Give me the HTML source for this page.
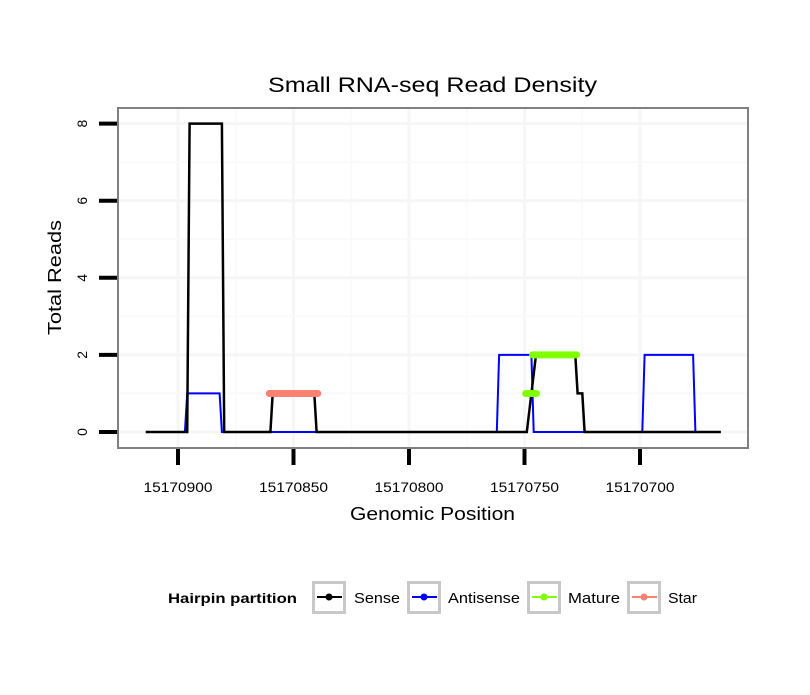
<!DOCTYPE html>
<html><head><meta charset="utf-8"><style>
body{margin:0;background:#fff;}
svg text{font-family:"Liberation Sans",sans-serif;}
</style></head><body>
<svg width="810" height="690" viewBox="0 0 810 690">
<rect width="810" height="690" fill="#fff"/>
<text x="268" y="92" font-size="21" textLength="329" lengthAdjust="spacingAndGlyphs">Small RNA-seq Read Density</text>
<g id="grid"></g>
<g id="marks"></g>
<rect x="118" y="108" width="630" height="340" fill="none" stroke="#808080" stroke-width="2"/>
<g id="axes"></g>
<text x="350" y="520" font-size="18" textLength="165" lengthAdjust="spacingAndGlyphs">Genomic Position</text>
<text transform="translate(61,335) rotate(-90)" font-size="18" textLength="115" lengthAdjust="spacingAndGlyphs">Total Reads</text>
<g>
<text x="168" y="603" font-size="14" font-weight="bold" textLength="129" lengthAdjust="spacingAndGlyphs">Hairpin partition</text>
<g id="legend"></g>
</g>
</svg>
<script>
const xTicks=[15170900,15170850,15170800,15170750,15170700];
const yTicks=[0,2,4,6,8];
const sensePos=[15170914,15170896,15170895,15170881,15170880,15170860,15170859,15170841,15170840,15170749,15170747,15170745,15170728,15170727,15170725,15170724,15170665];
const senseVal=[0,0,8,8,0,0,1,1,0,0,1,2,2,1,1,0,0];
const antiPos=[15170897,15170896,15170882,15170881,15170762,15170761,15170747,15170746,15170699,15170698,15170677,15170676];
const antiVal=[0,1,1,0,0,2,2,0,0,2,2,0];
const matureStart=[15170749.5,15170746.5];
const matureEnd=[15170744.8,15170727.5];
const matureVal=[1,2];
const starStart=[15170860.5];
const starEnd=[15170839.5];
const starVal=[1];
const legendLabels=["Sense","Antisense","Mature","Star"];
const legendColors=["#000000","#0000ff","#7fff00","#fa8072"];

const NS="http://www.w3.org/2000/svg";
function X(p){return 178+(15170900-p)*2.31;}
function Y(v){return 432-v*38.55;}
function mk(tag,attrs,parent){const e=document.createElementNS(NS,tag);for(const k in attrs)e.setAttribute(k,attrs[k]);parent.appendChild(e);return e;}
const grid=document.getElementById('grid'),marks=document.getElementById('marks'),axes=document.getElementById('axes'),leg=document.getElementById('legend');
for(let i=0;i<xTicks.length;i++){
 const g=mk('line',{x1:X(xTicks[i]),x2:X(xTicks[i]),y1:109,y2:447,stroke:'#f6f6f6','stroke-width':3},grid);
 
 
}
for(let i=0;i<xTicks.length-1;i++){
 const m=(xTicks[i]+xTicks[i+1])/2;
 const g=mk('line',{x1:X(m),x2:X(m),y1:109,y2:447,stroke:'#fafafa','stroke-width':2},grid);
 
 
}
for(let i=0;i<yTicks.length;i++){
 const g=mk('line',{x1:119,x2:747,y1:Y(yTicks[i]),y2:Y(yTicks[i]),stroke:'#f6f6f6','stroke-width':3},grid);
 
 
 if(i<yTicks.length-1){
  const m=(yTicks[i]+yTicks[i+1])/2;
  const h=mk('line',{x1:119,x2:747,y1:Y(m),y2:Y(m),stroke:'#fafafa','stroke-width':2},grid);
  
  
 }
}
function pathOf(ps,vs){return ps.map((p,i)=>(i?'L':'M')+X(p).toFixed(1)+','+Y(vs[i]).toFixed(1)).join(' ');}
const a=mk('path',{d:pathOf(antiPos,antiVal),fill:'none',stroke:'#0000ff','stroke-width':2},marks);


const s=mk('path',{d:pathOf(sensePos,senseVal),fill:'none',stroke:'#000','stroke-width':2.5},marks);


for(let i=0;i<matureVal.length;i++){
 const l=mk('line',{x1:X(matureStart[i]),x2:X(matureEnd[i]),y1:Y(matureVal[i]),y2:Y(matureVal[i]),stroke:'#7fff00','stroke-width':7,'stroke-linecap':'round'},marks);
 
 
}
for(let i=0;i<starVal.length;i++){
 const l=mk('line',{x1:X(starStart[i]),x2:X(starEnd[i]),y1:Y(starVal[i]),y2:Y(starVal[i]),stroke:'#fa8072','stroke-width':7,'stroke-linecap':'round'},marks);
 
 
}
for(let i=0;i<xTicks.length;i++){
 const t=mk('line',{x1:X(xTicks[i]),x2:X(xTicks[i]),y1:449,y2:465,stroke:'#000','stroke-width':4},axes);
 
 
 const tx=mk('text',{x:X(xTicks[i])-34.5,y:492,'font-size':14,textLength:69,lengthAdjust:'spacingAndGlyphs'},axes);
 tx.textContent=xTicks[i];
 
 
}
for(let i=0;i<yTicks.length;i++){
 const t=mk('line',{x1:99,x2:117,y1:Y(yTicks[i]),y2:Y(yTicks[i]),stroke:'#000','stroke-width':4},axes);
 
 
 const tx=mk('text',{transform:'translate(87,'+Y(yTicks[i])+') rotate(-90)','font-size':14,'text-anchor':'middle'},axes);
 tx.textContent=yTicks[i];
 
 
}
const keyX=[312,407,527,627];
const labX=[354,448,568,668];
const labW=[46,72,52,29];
for(let i=0;i<legendLabels.length;i++){
 const k=mk('rect',{x:keyX[i]+1.5,y:582.5,width:31,height:30,fill:'#fff',stroke:'#c8c8c8','stroke-width':3},leg);
 
 
 const l=mk('line',{x1:keyX[i]+5,x2:keyX[i]+30,y1:597,y2:597,stroke:legendColors[i],'stroke-width':2},leg);
 
 
 const c=mk('circle',{cx:keyX[i]+17,cy:597,r:3.5,fill:legendColors[i]},leg);
 
 
 const t=mk('text',{x:labX[i],y:603,'font-size':15,textLength:labW[i],lengthAdjust:'spacingAndGlyphs'},leg);
 t.textContent=legendLabels[i];
 
 
}
</script>
</body></html>
